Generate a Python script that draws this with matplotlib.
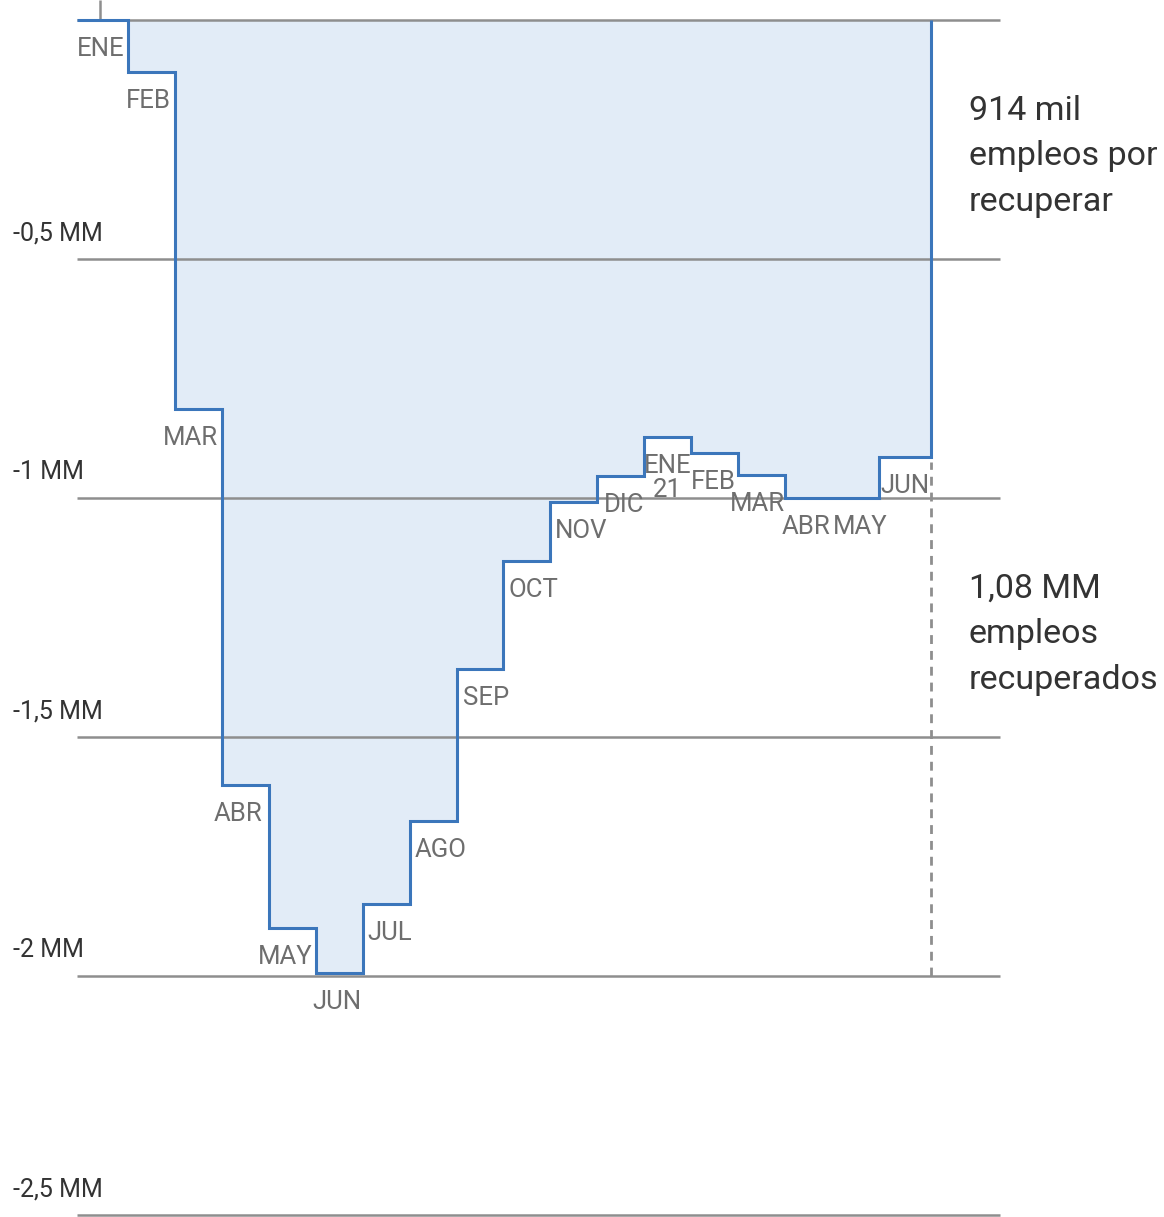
import matplotlib
matplotlib.use("Agg")
import matplotlib.pyplot as plt

# monthly employment change vs. Jan 2020, in millions (MM)
months = ["ENE", "FEB", "MAR", "ABR", "MAY", "JUN", "JUL", "AGO", "SEP",
          "OCT", "NOV", "DIC", "ENE\n21", "FEB", "MAR", "ABR", "MAY", "JUN"]
values = [0.0, -0.109, -0.814, -1.600, -1.900, -1.994, -1.849, -1.676, -1.358,
          -1.132, -1.008, -0.954, -0.872, -0.905, -0.952, -1.001, -1.000, -0.914]

y_ticks = [0, -0.5, -1.0, -1.5, -2.0, -2.5]
y_tick_labels = ["", "-0,5 MM", "-1 MM", "-1,5 MM", "-2 MM", "-2,5 MM"]

note_top = "914 mil\nempleos por\nrecuperar"
note_bottom = "1,08 MM\nempleos\nrecuperados"

plt.rcParams["font.family"] = ["Roboto", "DejaVu Sans"]

W, H, DPI = 1164, 1217, 100
PX_X = 46.94          # pixels per month
X0 = 81               # pixel of first month's left edge
PX_Y = 478            # pixels per MM
Y0 = 20               # pixel of zero line

# horizontal nudges (pixels) for the month labels, so they clear the step edges
label_dx = [-4, -3, -8, -7, -7, -2, 4, 8, 6, 7, 7, 3, 0, -1, -4, -3, 5, 2]

fig = plt.figure(figsize=(W / DPI, H / DPI), dpi=DPI)
ax = fig.add_axes([0, 0, 1, 1])
ax.set_xlim(-X0 / PX_X, (W - X0) / PX_X)
ax.set_ylim(-(H - Y0) / PX_Y, Y0 / PX_Y)
ax.axis("off")


def px(x):
    return (x - X0) / PX_X


def py(y):
    return -(y - Y0) / PX_Y


grid_left, grid_right = px(77), px(1000)
grid_col = "#8e8e8e"
line_col = "#3b76bb"
fill_col = "#e2ecf7"

n = len(values)
x_end = px(931)
edges = [grid_left] + list(range(1, n)) + [x_end]

ax.stairs(values, edges, baseline=0, fill=True, color=fill_col, zorder=1)
ax.hlines(y_ticks, grid_left, grid_right, color=grid_col, lw=1.8, zorder=2)
ax.vlines(px(100), 0, Y0 / PX_Y, color=grid_col, lw=1.8, zorder=2)
ax.vlines(x_end, -2.0, values[-1] - 0.01, color=grid_col, lw=2,
          linestyles=(0, (3.2, 2.5)), zorder=2)
ax.stairs(values, edges, baseline=0, color=line_col, lw=2.2, zorder=3)

for i, (lab, v) in enumerate(zip(months, values)):
    ax.annotate(lab, (i + 0.5, v), xytext=(label_dx[i], -17),
                textcoords="offset pixels", ha="center", va="top",
                fontsize=18.5, color="#6e6e6e", linespacing=1.0, zorder=4)

for yv, lab in zip(y_ticks, y_tick_labels):
    ax.annotate(lab, (px(13), yv), xytext=(0, 19), textcoords="offset pixels",
                ha="left", va="baseline", fontsize=18, color="#333333")

ax.text(px(969), py(211), note_top, ha="left", va="baseline",
        fontsize=24.5, color="#333333", linespacing=1.55)
ax.text(px(969), py(689), note_bottom, ha="left", va="baseline",
        fontsize=24.5, color="#333333", linespacing=1.55)

fig.savefig("out.png", dpi=DPI)
